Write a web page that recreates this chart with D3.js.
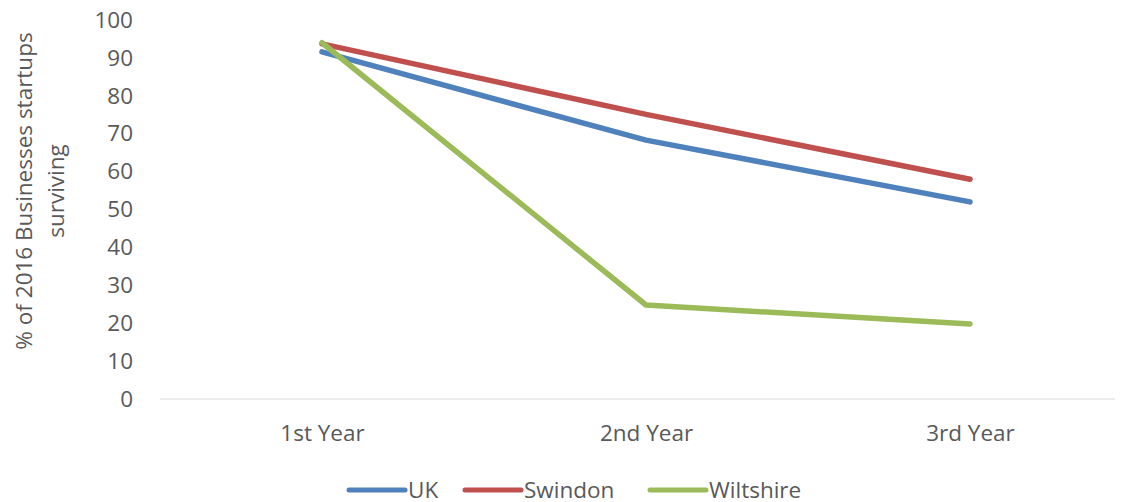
<!DOCTYPE html>
<html>
<head>
<meta charset="utf-8">
<script src="https://cdn.jsdelivr.net/npm/d3@7"></script>
<style>
  html, body { margin: 0; padding: 0; background: #fff; }
  svg { display: block; font-family: "Open Sans", sans-serif; }
</style>
</head>
<body>
<svg id="chart" width="1121" height="502"></svg>
<script>
// Survival of 2016 business startups, by year
const categories = ["1st Year", "2nd Year", "3rd Year"];
const ukValues = [91.6, 68.3, 52.0];
const swindonValues = [93.7, 75.1, 58.0];
const wiltshireValues = [94.0, 24.8, 19.8];
const yTicks = [0, 10, 20, 30, 40, 50, 60, 70, 80, 90, 100];

const series = [
  { name: "UK", values: ukValues, color: "#4F81BD" },
  { name: "Swindon", values: swindonValues, color: "#C0504D" },
  { name: "Wiltshire", values: wiltshireValues, color: "#9BBB59" }
];

const svg = d3.select("#chart");
const plot = { left: 160, right: 1132, top: 20, bottom: 399 };
const textColor = "#595959";
const fontSize = "22.5px";

const x = d3.scalePoint().domain(categories).range([plot.left, plot.right]).padding(0.5);
const y = d3.scaleLinear().domain([0, 100]).range([plot.bottom, plot.top]);

// Y axis labels (no axis line)
const yAxis = svg.append("g").attr("transform", `translate(${plot.left},0)`)
  .call(d3.axisLeft(y).tickValues(yTicks).tickSize(0).tickPadding(27));
yAxis.select(".domain").remove();
yAxis.selectAll("text")
  .attr("fill", textColor)
  .style("font-size", fontSize)
  .style("font-family", "'Open Sans', sans-serif");

// X axis baseline and category labels
const xAxis = svg.append("g").attr("transform", `translate(0,${plot.bottom})`)
  .call(d3.axisBottom(x).tickSize(0).tickPadding(26));
xAxis.select(".domain").remove();
xAxis.append("line")
  .attr("x1", plot.left).attr("x2", 1115)
  .attr("y1", 0).attr("y2", 0)
  .attr("stroke", "#d9d9d9").attr("stroke-width", 1);
xAxis.selectAll("text")
  .attr("fill", textColor)
  .style("font-size", fontSize)
  .style("font-family", "'Open Sans', sans-serif");

// Y axis title
const title = svg.append("text")
  .attr("transform", "translate(0,191) rotate(-90)")
  .attr("text-anchor", "middle")
  .attr("fill", textColor)
  .style("font-size", fontSize);
title.append("tspan").attr("x", 0).attr("y", 32).text("% of 2016 Businesses startups");
title.append("tspan").attr("x", 0).attr("y", 64).text("surviving");

// Lines
const line = d3.line()
  .x((d, i) => x(categories[i]))
  .y(d => y(d));

svg.append("g").selectAll("path")
  .data(series)
  .join("path")
  .attr("d", d => line(d.values))
  .attr("fill", "none")
  .attr("stroke", d => d.color)
  .attr("stroke-width", 5.5)
  .attr("stroke-linecap", "round")
  .attr("stroke-linejoin", "round");

// Legend
const legendX = [349, 465, 650];
const legend = svg.append("g").selectAll("g")
  .data(series)
  .join("g")
  .attr("transform", (d, i) => `translate(${legendX[i]},490)`);
legend.append("line")
  .attr("x1", 0).attr("x2", 56).attr("y1", 0).attr("y2", 0)
  .attr("stroke", d => d.color)
  .attr("stroke-width", 5)
  .attr("stroke-linecap", "round");
legend.append("text")
  .attr("x", 59).attr("y", 8)
  .attr("fill", textColor)
  .style("font-size", fontSize)
  .text(d => d.name);
</script>
</body>
</html>
